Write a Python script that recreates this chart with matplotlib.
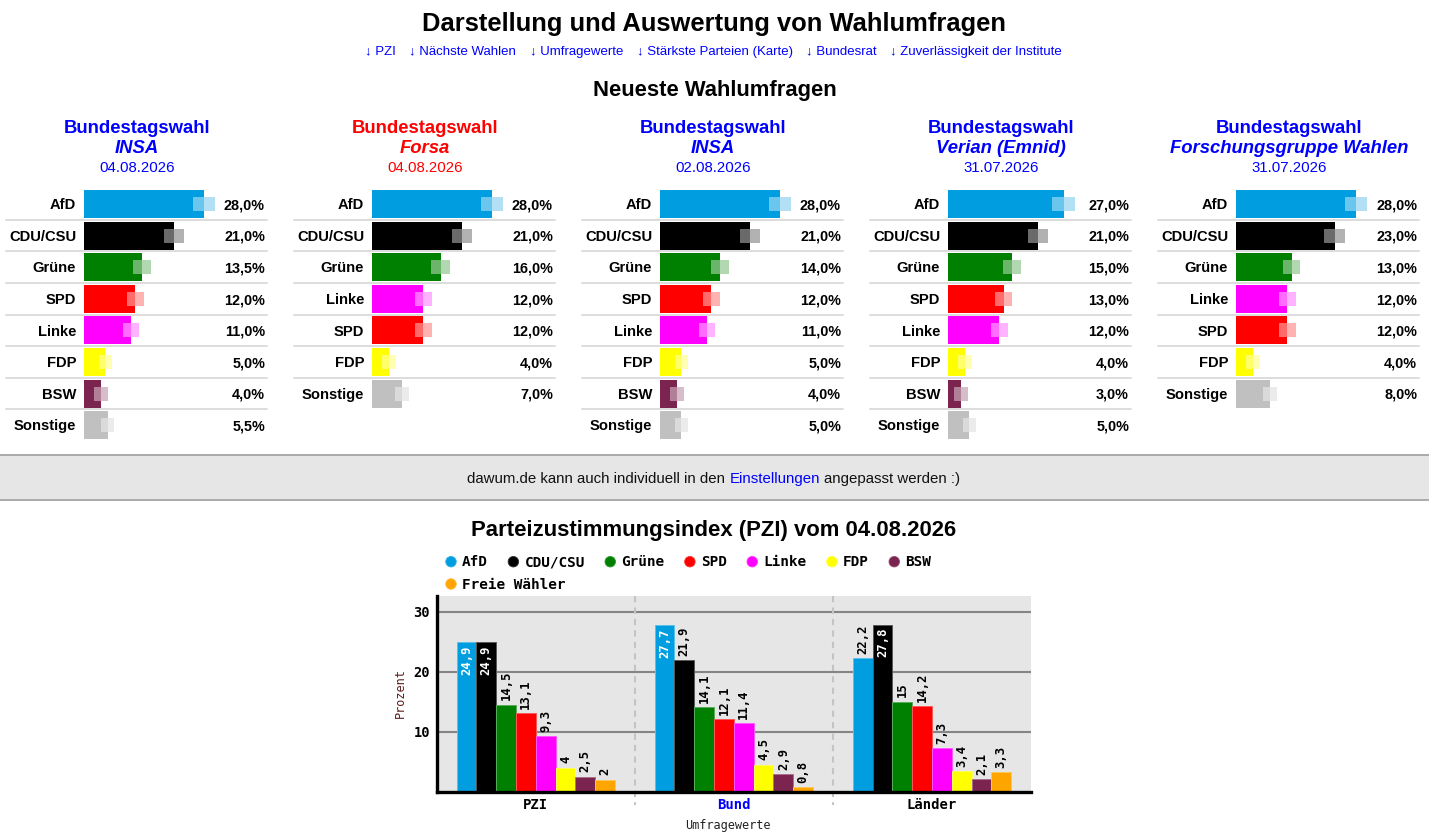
import numpy as np
import matplotlib
matplotlib.use('Agg')
import matplotlib.pyplot as plt
from matplotlib.patches import Rectangle, Ellipse
from matplotlib.lines import Line2D
from matplotlib.transforms import blended_transform_factory
from matplotlib.colors import to_rgb

plt.rcParams['font.family'] = ['Liberation Sans', 'DejaVu Sans']
MONO = ['DejaVu Sans Mono']

W, H = 1429, 838

# --- Daten -----------------------------------------------------------------
party_colors = {
    'AfD': '#009ee0',
    'CDU/CSU': '#000000',
    'Grüne': '#008000',
    'SPD': '#ff0000',
    'Linke': '#ff00ff',
    'FDP': '#ffff00',
    'BSW': '#7b2450',
    'Sonstige': '#c0c0c0',
    'Freie Wähler': '#ffa500',
}

poll_institutes = ['INSA', 'Forsa', 'INSA', 'Verian (Emnid)', 'Forschungsgruppe Wahlen']
poll_dates = ['04.08.2026', '04.08.2026', '02.08.2026', '31.07.2026', '31.07.2026']
poll_head_colors = ['#0000ff', '#ff0000', '#0000ff', '#0000ff', '#0000ff']

poll1_parties = ['AfD', 'CDU/CSU', 'Grüne', 'SPD', 'Linke', 'FDP', 'BSW', 'Sonstige']
poll1_values = [28.0, 21.0, 13.5, 12.0, 11.0, 5.0, 4.0, 5.5]
poll2_parties = ['AfD', 'CDU/CSU', 'Grüne', 'Linke', 'SPD', 'FDP', 'Sonstige']
poll2_values = [28.0, 21.0, 16.0, 12.0, 12.0, 4.0, 7.0]
poll3_parties = ['AfD', 'CDU/CSU', 'Grüne', 'SPD', 'Linke', 'FDP', 'BSW', 'Sonstige']
poll3_values = [28.0, 21.0, 14.0, 12.0, 11.0, 5.0, 4.0, 5.0]
poll4_parties = ['AfD', 'CDU/CSU', 'Grüne', 'SPD', 'Linke', 'FDP', 'BSW', 'Sonstige']
poll4_values = [27.0, 21.0, 15.0, 13.0, 12.0, 4.0, 3.0, 5.0]
poll5_parties = ['AfD', 'CDU/CSU', 'Grüne', 'Linke', 'SPD', 'FDP', 'Sonstige']
poll5_values = [28.0, 23.0, 13.0, 12.0, 12.0, 4.0, 8.0]

polls_parties = [poll1_parties, poll2_parties, poll3_parties, poll4_parties, poll5_parties]
polls_values = [poll1_values, poll2_values, poll3_values, poll4_values, poll5_values]

pzi_groups = ['PZI', 'Bund', 'Länder']
pzi_parties = ['AfD', 'CDU/CSU', 'Grüne', 'SPD', 'Linke', 'FDP', 'BSW', 'Freie Wähler']
pzi_values = [
    [24.9, 24.9, 14.5, 13.1, 9.3, 4.0, 2.5, 2.0],    # PZI
    [27.7, 21.9, 14.1, 12.1, 11.4, 4.5, 2.9, 0.8],   # Bund
    [22.2, 27.8, 15.0, 14.2, 7.3, 3.4, 2.1, 3.3],    # Länder
]

nav_links = ['↓ PZI', '↓ Nächste Wahlen', '↓ Umfragewerte', '↓ Stärkste Parteien (Karte)',
             '↓ Bundesrat', '↓ Zuverlässigkeit der Institute']
# ---------------------------------------------------------------------------

fig = plt.figure(figsize=(W / 100, H / 100), dpi=100)
renderer = fig.canvas.get_renderer()
DY = 2.5  # Liberation-Texte sitzen sonst etwas zu hoch


def fy(y):
    return 1 - y / H


def ftext(x, y, s, **kw):
    return fig.text(x / W, fy(y + DY), s, va='center', **kw)


def flow(parts, xc, y_base, gap, **kw):
    # Teile nebeneinander auf gemeinsamer Grundlinie, als Gruppe zentriert
    texts = [fig.text(0, fy(y_base), s, color=c, va='baseline', **kw) for s, c in parts]
    widths = [t.get_window_extent(renderer).width for t in texts]
    x = xc - (sum(widths) + gap * (len(parts) - 1)) / 2
    for t, w in zip(texts, widths):
        t.set_x(x / W)
        x += w + gap


def lighten(c, f):
    r = np.array(to_rgb(c))
    return tuple(r + (1 - r) * f)


# Kopf
ftext(714.5, 22, 'Darstellung und Auswertung von Wahlumfragen', ha='center',
      fontsize=18.4, fontweight='bold')
flow([(s, '#0000ff') for s in nav_links], 713.5, 54.5, 13.5, fontsize=9.5)
ftext(714.5, 88, 'Neueste Wahlumfragen', ha='center', fontsize=15.8, fontweight='bold')

# Umfrage-Kacheln
px_per_pct = 4.286
row_h = 31.6
for k in range(5):
    x0 = 84 + 288 * k
    cx = 137 + 288 * k
    hc = poll_head_colors[k]
    ftext(cx, 126, 'Bundestagswahl', ha='center', color=hc, fontsize=13.3, fontweight='bold')
    ftext(cx, 146, poll_institutes[k], ha='center', color=hc,
          fontsize=13.3, fontweight='bold', fontstyle='italic')
    ftext(cx, 166, poll_dates[k], ha='center', color=hc, fontsize=10.8)

    ax = fig.add_axes([x0 / W, fy(188.2 + 8 * row_h), 181 / W, 8 * row_h / H])
    ax.set_xlim(0, 181 / px_per_pct)
    ax.set_ylim(7.5, -0.5)
    ax.axis('off')

    names = polls_parties[k]
    vals = np.array(polls_values[k])
    cols = [party_colors[n] for n in names]
    rows = np.arange(len(names))
    # Fehlerbereich (95%-Intervall), mindestens 1,6 Punkte
    err = np.maximum(1.96 * np.sqrt(vals / 100 * (1 - vals / 100) / 1100) * 100, 1.6)
    ax.barh(rows, vals, height=0.886, color=cols, zorder=2)
    ax.barh(rows, err, left=vals - err, height=0.443, color='white', alpha=0.42, zorder=3)
    ax.barh(rows, err, left=vals, height=0.443, color=cols, alpha=0.3, zorder=3)

    tr = ax.get_yaxis_transform()
    for i, (n, v) in enumerate(zip(names, vals)):
        ax.text(-8 / px_per_pct, i + 0.04, n, ha='right', va='center', fontsize=10.6, fontweight='bold')
        ax.text(1.0, i + 0.04, f'{v:.1f}%'.replace('.', ','), transform=tr, ha='right', va='center',
                fontsize=10.4, fontweight='bold')
        if i < len(names) - 1:
            ax.plot([-78 / 181, 183 / 181], [i + 0.5, i + 0.5], transform=tr, color='#d3d3d3',
                    lw=1.1, clip_on=False)

# Hinweisleiste
fig.add_artist(Rectangle((0, fy(500)), 1, 45 / H, transform=fig.transFigure,
                         facecolor='#e6e6e6', edgecolor='none'))
for yl in (455.3, 500.3):
    fig.add_artist(Line2D([0, 1], [fy(yl), fy(yl)], transform=fig.transFigure, color='#aaaaaa', lw=1.4))
flow([('dawum.de kann auch individuell in den', '#111111'), ('Einstellungen', '#0000ff'),
      ('angepasst werden :)', '#111111')], 714, 483, 4.2, fontsize=10.8)

# PZI
ftext(714, 528, 'Parteizustimmungsindex (PZI) vom 04.08.2026', ha='center',
      fontsize=15.9, fontweight='bold')

# Legende
lx, ly = 446, 561.7
for n in pzi_parties:
    if lx > 940:
        lx, ly = 446, 584
    fig.add_artist(Ellipse(((lx + 5) / W, fy(ly)), 10.5 / W, 10.5 / H, transform=fig.transFigure,
                           facecolor=party_colors[n], edgecolor=lighten(party_colors[n], 0.2), lw=0.6))
    t = fig.text((lx + 16) / W, fy(ly + 0.5), n, va='center', fontsize=10.4, fontweight='bold',
                 family=MONO)
    lx = lx + 16 + t.get_window_extent(renderer).width + 20.5

bx = fig.add_axes([436.7 / W, fy(791.5), 594.3 / W, 195.5 / H])
bx.set_facecolor('#e6e6e6')
bx.set_xlim(-0.5, 2.5)
bx.set_ylim(0, 32.6)
for s in ('top', 'right'):
    bx.spines[s].set_visible(False)
for s in ('left', 'bottom'):
    bx.spines[s].set_linewidth(2.4)
    bx.spines[s].set_color('black')
bx.set_yticks([10, 20, 30])
bx.yaxis.grid(True, color='#858585', lw=1.5)
bx.set_axisbelow(True)
bx.tick_params(length=0, pad=5)
for lab in bx.get_yticklabels():
    lab.set_fontfamily(MONO)
    lab.set_fontweight('bold')
    lab.set_fontsize(9.8)

gx = np.arange(len(pzi_groups))
vals = np.array(pzi_values)
btr = blended_transform_factory(bx.transData, bx.transAxes)
for b in (0.5, 1.5):
    bx.plot([b, b], [1, -0.07], transform=btr, color='#c4c4c4', lw=1.5, ls=(0, (3, 2.5)),
            clip_on=False, zorder=0.6)
for i, n in enumerate(pzi_parties):
    xs = gx + (i - 3.5) * 0.1
    c = party_colors[n]
    bx.bar(xs, vals[:, i], width=0.1, color=c, edgecolor=lighten(c, 0.35), lw=0.7, zorder=2)
    for x, v in zip(xs, vals[:, i]):
        s = f'{v:g}'.replace('.', ',')
        inside = v > 23
        bx.annotate(s, (x, v), xytext=(0, -2.2 if inside else 3), textcoords='offset points',
                    rotation=90, ha='center', va='top' if inside else 'bottom',
                    color='white' if inside else 'black', fontsize=8.8, fontweight='bold',
                    family=MONO, zorder=4)

bx.set_xticks(gx, pzi_groups)
for lab in bx.get_xticklabels():
    lab.set_fontfamily(MONO)
    lab.set_fontweight('bold')
    lab.set_fontsize(10)
bx.get_xticklabels()[1].set_color('#0000ff')

fig.text(728 / W, fy(825), 'Umfragewerte', ha='center', va='center', fontsize=8.6, family=MONO,
         color='#222222')
fig.text(400.7 / W, fy(693), 'Prozent', ha='center', va='center', rotation=90, fontsize=8.6,
         family=MONO, color='#5a1e1e')

fig.savefig('out.png', dpi=100)
